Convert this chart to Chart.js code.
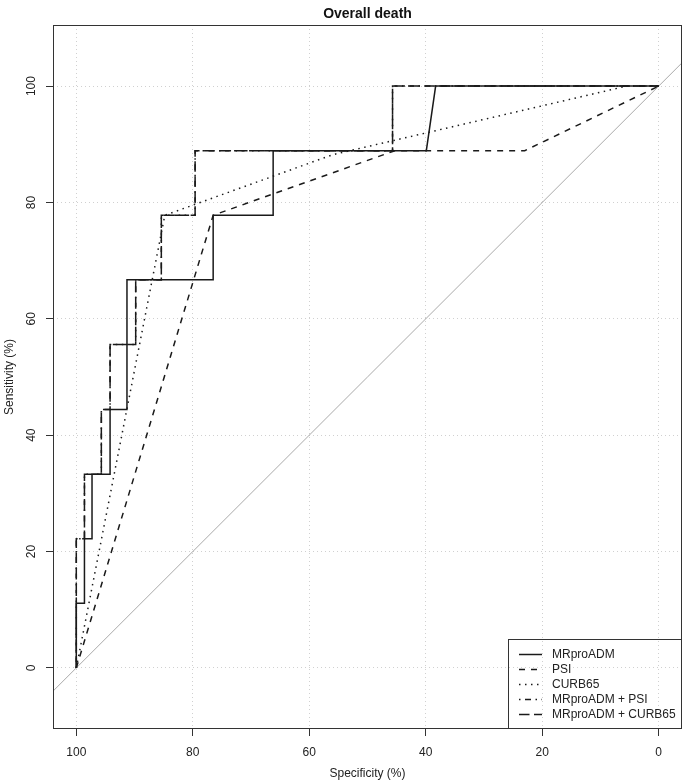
<!DOCTYPE html>
<html>
<head>
<meta charset="utf-8">
<script src="https://cdn.jsdelivr.net/npm/chart.js@4"></script>
<style>
  html, body { margin: 0; padding: 0; background: #fff; }
  canvas { display: block; }
</style>
</head>
<body>
<canvas id="roc" width="684" height="783"></canvas>
<script>
// tick labels
const xTicks = [100, 80, 60, 40, 20, 0];
const yTicks = [0, 20, 40, 60, 80, 100];

// ROC curves: specificity (%) / sensitivity (%)
const mrproadmSpec = [100, 100, 98.6, 98.6, 97.3, 97.3, 94.2, 94.2, 91.3, 91.3, 76.5, 76.5, 66.2, 66.2, 39.9, 38.3, 0];
const mrproadmSens = [0, 11.1, 11.1, 22.2, 22.2, 33.3, 33.3, 44.4, 44.4, 66.7, 66.7, 77.8, 77.8, 88.9, 88.9, 100, 100];

const psiSpec = [100, 76.5, 45.3, 23.0, 0];
const psiSens = [0, 77.8, 88.9, 88.9, 100];

const curbSpec = [100, 84.8, 56.0, 5.5, 0];
const curbSens = [0, 77.8, 88.2, 100, 100];

const admPsiSpec = [100, 100, 98.6, 98.6, 95.7, 95.7, 94.2, 94.2, 89.8, 89.8, 85.4, 85.4, 79.6, 79.6, 45.7, 45.7, 0];
const admPsiSens = [0, 22.2, 22.2, 33.3, 33.3, 44.4, 44.4, 55.6, 55.6, 66.7, 66.7, 77.8, 77.8, 88.9, 88.9, 100, 100];

const admCurbSpec = [100, 100, 98.6, 98.6, 95.7, 95.7, 94.2, 94.2, 89.8, 89.8, 85.4, 85.4, 79.6, 79.6, 45.7, 45.7, 0];
const admCurbSens = [0, 22.2, 22.2, 33.3, 33.3, 44.4, 44.4, 55.6, 55.6, 66.7, 66.7, 77.8, 77.8, 88.9, 88.9, 100, 100];

// chance line
const diagSpec = [104, -4];
const diagSens = [-4, 104];

const FONT = '"Liberation Sans", Arial, sans-serif';
const INK = '#1a1a1a';

function puntos(spec, sens) {
    return spec.map((s, i) => ({ x: s, y: sens[i] }));
}

function curva(label, spec, sens, dash) {
    return {
        label: label,
        data: puntos(spec, sens),
        borderColor: INK,
        borderWidth: 1.5,
        borderDash: dash,
        showLine: true,
        pointRadius: 0,
        tension: 0,
        fill: false,
        enLeyenda: true
    };
}

const datasets = [
    curva('MRproADM', mrproadmSpec, mrproadmSens, []),
    curva('PSI', psiSpec, psiSens, [6, 6]),
    curva('CURB65', curbSpec, curbSens, [1.5, 4.5]),
    curva('MRproADM + PSI', admPsiSpec, admPsiSens, [1.5, 4.5, 6, 4.5]),
    curva('MRproADM + CURB65', admCurbSpec, admCurbSens, [10.5, 4.5]),
    {
        label: 'diagonal',
        data: puntos(diagSpec, diagSens),
        borderColor: '#a9a9a9',
        borderWidth: 1,
        showLine: true,
        pointRadius: 0,
        fill: false,
        enLeyenda: false
    }
];

// R-style box, rotated y labels and legend inside the plot
const estiloR = {
    id: 'estiloR',
    afterDraw(chart) {
        const ctx = chart.ctx;
        const a = chart.chartArea;
        const y = chart.scales.y;
        ctx.save();

        ctx.strokeStyle = '#333';
        ctx.lineWidth = 1;
        ctx.setLineDash([]);
        ctx.strokeRect(a.left + 0.5, a.top + 0.5, a.right - a.left - 1, a.bottom - a.top - 1);

        ctx.fillStyle = '#222';
        ctx.font = '12px ' + FONT;
        ctx.textAlign = 'center';
        ctx.textBaseline = 'middle';
        yTicks.forEach(v => {
            ctx.save();
            ctx.translate(32, y.getPixelForValue(v));
            ctx.rotate(-Math.PI / 2);
            ctx.fillText(String(v), 0, 0);
            ctx.restore();
        });

        ctx.save();
        ctx.translate(10, (a.top + a.bottom) / 2);
        ctx.rotate(-Math.PI / 2);
        ctx.fillText('Sensitivity (%)', 0, 0);
        ctx.restore();

        // legend
        const items = chart.data.datasets.filter(d => d.enLeyenda);
        const bx = a.right - 174;
        const by = a.bottom - 90;
        ctx.strokeStyle = '#333';
        ctx.lineWidth = 1;
        ctx.strokeRect(bx + 0.5, by + 0.5, a.right - bx - 1, a.bottom - by - 1);
        ctx.textAlign = 'left';
        items.forEach((d, i) => {
            const ly = Math.round(by + 14.5 + i * 15.2) + 0.5;
            ctx.beginPath();
            ctx.strokeStyle = d.borderColor;
            ctx.lineWidth = d.borderWidth;
            ctx.setLineDash(d.borderDash);
            ctx.moveTo(bx + 11, ly);
            ctx.lineTo(bx + 34, ly);
            ctx.stroke();
            ctx.setLineDash([]);
            ctx.fillStyle = '#222';
            ctx.fillText(d.label, bx + 44, ly);
        });

        ctx.restore();
    }
};

new Chart(document.getElementById('roc').getContext('2d'), {
    type: 'scatter',
    data: { datasets: datasets },
    options: {
        responsive: false,
        animation: false,
        devicePixelRatio: 1,
        layout: { padding: { left: 0, right: 2, top: 0, bottom: 0 } },
        plugins: {
            legend: { display: false },
            tooltip: { enabled: false },
            title: {
                display: true,
                text: 'Overall death',
                color: '#111',
                fullSize: false,
                font: { family: FONT, size: 14, weight: 'bold', lineHeight: 1.2 },
                padding: { top: 6, bottom: 2.2 }
            }
        },
        scales: {
            x: {
                type: 'linear',
                reverse: true,
                min: -4,
                max: 104,
                afterBuildTicks: s => { s.ticks = xTicks.map(v => ({ value: v })); },
                afterFit: s => { s.height = 54; },
                grid: { color: '#d0d0d0', tickColor: '#333', tickLength: 7, tickBorderDash: [] },
                border: { display: false, dash: [1, 3] },
                ticks: { color: '#222', padding: 9, maxRotation: 0, font: { family: FONT, size: 12 } },
                title: {
                    display: true,
                    text: 'Specificity (%)',
                    color: '#222',
                    font: { family: FONT, size: 12 },
                    padding: { top: 0, bottom: 2 }
                }
            },
            y: {
                type: 'linear',
                min: -10.5,
                max: 110.5,
                afterBuildTicks: s => { s.ticks = yTicks.map(v => ({ value: v })); },
                afterFit: s => { s.width = 53; },
                grid: { color: '#d0d0d0', tickColor: '#333', tickLength: 7, tickBorderDash: [] },
                border: { display: false, dash: [1, 3] },
                ticks: { display: false }
            }
        }
    },
    plugins: [estiloR]
});
</script>
</body>
</html>
